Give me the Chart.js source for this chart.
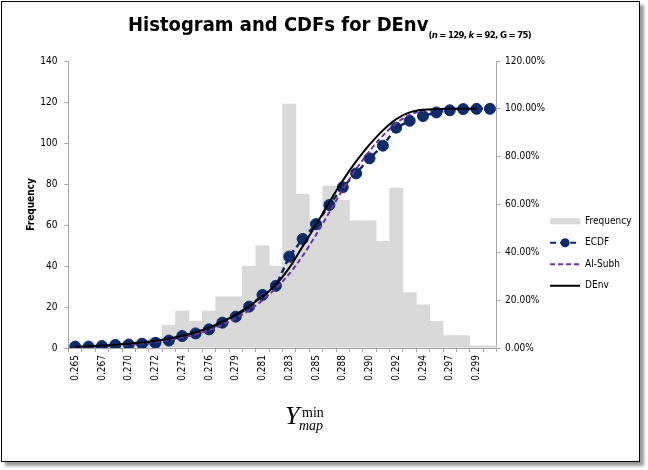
<!DOCTYPE html>
<html>
<head>
<meta charset="utf-8">
<script src="https://cdn.jsdelivr.net/npm/chart.js@4/dist/chart.umd.min.js"></script>
<style>
  html, body { margin: 0; padding: 0; background: #fff; }
  #frame { position: absolute; left: 1px; top: 1px; width: 637px; height: 459px; border: 1px solid #000; box-shadow: 4px 4px 3px #9a9a9a; background: #fff; }
  #wrap { position: absolute; left: 0; top: 0; width: 648px; height: 470px; }
  #title { position: absolute; left: 128px; top: 12px; font-family: 'DejaVu Sans Condensed', 'DejaVu Sans', sans-serif; font-stretch: condensed; font-weight: bold; font-size: 20px; line-height: 24px; white-space: nowrap; color: #000; }
  #title .sub { font-size: 9.5px; letter-spacing: -0.7px; vertical-align: -7px; }
  .xt { position: absolute; font-family: 'Liberation Serif', 'Times New Roman', serif; color: #000; white-space: nowrap; line-height: 1; }
</style>
</head>
<body>
<div id="frame"></div>
<div id="wrap"><canvas id="c" width="648" height="470"></canvas></div>
<div id="title">Histogram and CDFs for DEnv<span class="sub">(<i>n</i> = 129, <i>k</i> = 92, G = 75)</span></div>
<span class="xt" style="left:285px;top:403px;font-size:26px;font-style:italic;">Y</span>
<span class="xt" style="left:302px;top:406px;font-size:14px;">min</span>
<span class="xt" style="left:299px;top:419px;font-size:14px;font-style:italic;">map</span>
<script>
// ---- data ----
const categories = ['0.265','0.266','0.267','0.268','0.270','0.271','0.272','0.273','0.274','0.275','0.276','0.277','0.279','0.280','0.281','0.282','0.283','0.284','0.285','0.286','0.288','0.289','0.290','0.291','0.292','0.293','0.294','0.295','0.297','0.298','0.299','0.300'];
const frequency = [0,0,1,2,3,4,5,11,18,13,18,25,25,40,50,40,119,75,62,79,72,62,62,52,78,27,21,13,6,6,1,1];
const ecdf = [0.6,0.6,0.8,1.3,1.5,1.8,2.2,3.1,5.0,6.1,7.8,10.6,13.1,17.3,22.2,26.0,38.2,45.6,51.8,59.8,67.2,73.0,79.3,84.6,92.1,95.0,97.0,98.5,99.4,99.9,100,100];
const alSubh = [0.4,0.6,0.8,1.1,1.5,2.0,2.6,3.4,4.4,5.7,7.4,9.7,12.4,15.8,20.0,25.0,31.0,38.5,47.3,56.8,66.2,74.8,82.3,88.8,94.0,97.5,99.2,99.8,100,100,100,null];
const dEnv = [0.5,0.7,1.0,1.3,1.8,2.3,3.0,3.9,5.1,6.6,8.5,11.0,14.0,17.5,21.5,26.5,33.5,42.5,51.5,61.0,70.0,78.0,85.0,91.0,95.7,98.5,99.6,99.9,100,100,100,null];
const freqTicks = { min: 0, max: 140, step: 20 };
const pctTicks = { min: 0, max: 120, step: 20 };

const navy = '#0c2b6b';
const purple = '#7030a0';
const gray = '#d9d9d9';
const axisColor = '#a6a6a6';
const fontFam = "'DejaVu Sans Condensed', 'DejaVu Sans', sans-serif";

Chart.defaults.font.family = fontFam;
Chart.defaults.font.size = 10;
Chart.defaults.color = '#000';

// legend symbols (line samples) drawn at the legend's own item boxes
const legendSymbols = {
  id: 'legendSymbols',
  afterDraw(chart) {
    const lg = chart.legend;
    if (!lg || !lg.legendHitBoxes) return;
    const bw = lg.options.labels.boxWidth;
    const ctx = chart.ctx;
    chart.data.datasets.forEach((ds, i) => {
      const hb = lg.legendHitBoxes[i];
      if (!hb) return;
      const y = hb.top + hb.height / 2;
      ctx.save();
      ctx.strokeStyle = ds.legendColor;
      ctx.lineWidth = ds.legendWidth;
      ctx.setLineDash(ds.borderDash || []);
      ctx.beginPath();
      ctx.moveTo(hb.left, y);
      ctx.lineTo(hb.left + bw, y);
      ctx.stroke();
      if (ds.pointRadius) {
        ctx.setLineDash([]);
        ctx.fillStyle = ds.pointBackgroundColor;
        ctx.beginPath();
        ctx.arc(hb.left + bw / 2, y, 4.5, 0, Math.PI * 2);
        ctx.fill();
      }
      ctx.restore();
    });
  }
};

new Chart(document.getElementById('c'), {
  type: 'bar',
  data: {
    labels: categories,
    datasets: [
      { type: 'bar', label: 'Frequency', data: frequency, yAxisID: 'y', backgroundColor: gray, borderWidth: 0,
        barPercentage: 1, categoryPercentage: 1, order: 4, legendColor: gray, legendWidth: 6 },
      { type: 'line', label: 'ECDF', data: ecdf, yAxisID: 'y1', borderColor: navy, borderWidth: 2.5, borderDash: [6, 4],
        pointRadius: 5.5, pointBackgroundColor: navy, pointBorderColor: navy, pointBorderWidth: 1, tension: 0,
        fill: false, order: 3, legendColor: navy, legendWidth: 2 },
      { type: 'line', label: 'Al-Subh', data: alSubh, yAxisID: 'y1', borderColor: purple, borderWidth: 2, borderDash: [5, 3],
        pointRadius: 0, cubicInterpolationMode: 'monotone', fill: false, order: 2, legendColor: purple, legendWidth: 2 },
      { type: 'line', label: 'DEnv', data: dEnv, yAxisID: 'y1', borderColor: '#000', borderWidth: 2,
        pointRadius: 0, cubicInterpolationMode: 'monotone', fill: false, order: 1, legendColor: '#000', legendWidth: 2 }
    ]
  },
  options: {
    responsive: false,
    animation: false,
    devicePixelRatio: 1,
    layout: { padding: { top: 61, bottom: 24, left: 0, right: 6.5 } },
    plugins: {
      tooltip: { enabled: false },
      title: { display: false },
      legend: {
        position: 'right',
        align: 'center',
        labels: {
          boxWidth: 30,
          boxHeight: 17.5,
          padding: 4,
          font: { size: 10, family: fontFam },
          color: '#000',
          generateLabels(chart) {
            return chart.data.datasets.map((ds, i) => ({
              text: ds.label,
              fillStyle: 'rgba(0,0,0,0)',
              strokeStyle: 'rgba(0,0,0,0)',
              lineWidth: 0,
              hidden: false,
              datasetIndex: i,
              fontColor: '#000'
            }));
          }
        }
      }
    },
    scales: {
      x: {
        offset: true,
        grid: { display: true, offset: true, drawOnChartArea: false, drawTicks: true, tickLength: 4, color: axisColor },
        border: { display: true, color: axisColor, width: 1 },
        ticks: {
          autoSkip: false, minRotation: 90, maxRotation: 90, padding: 3, color: '#000',
          font: { size: 10 },
          callback(v, i) { return i % 2 === 0 ? categories[i] : ''; }
        },
        afterFit(s) { s.height = 98; }
      },
      y: {
        position: 'left',
        min: freqTicks.min, max: freqTicks.max,
        ticks: { stepSize: freqTicks.step, padding: 7, color: '#000', font: { size: 10 } },
        grid: { display: true, drawOnChartArea: false, drawTicks: true, tickLength: 4, color: axisColor },
        border: { display: true, color: axisColor, width: 1 },
        title: { display: true, text: 'Frequency', font: { size: 10, weight: 'bold' }, color: '#000', padding: { top: 25, bottom: 0 } },
        afterFit(s) { s.width = 68.5; }
      },
      y1: {
        position: 'right',
        min: pctTicks.min, max: pctTicks.max,
        ticks: { stepSize: pctTicks.step, padding: 4.5, color: '#000', font: { size: 10 },
          callback(v) { return Number(v).toFixed(2) + '%'; } },
        grid: { display: true, drawOnChartArea: false, drawTicks: true, tickLength: 4, color: axisColor },
        border: { display: true, color: axisColor, width: 1 },
        afterFit(s) { s.width = 49.5; }
      }
    }
  },
  plugins: [legendSymbols]
});
</script>
</body>
</html>
